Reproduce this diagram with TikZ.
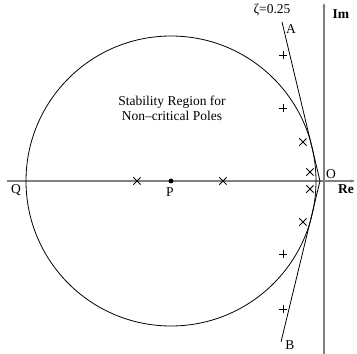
\documentclass[tikz,border=0pt]{standalone}
\usepackage{fontspec}
\setmainfont{Liberation Serif}
\usetikzlibrary{shapes.misc,arrows.meta}

\begin{document}
\begin{tikzpicture}[x=10pt,y=10pt,line width=0.8pt,
  axis/.style={gray,line width=1.2pt,-{Stealth[length=4pt,width=3pt]}},
  pole/.style={cross out,draw,line width=0.75pt,minimum size=6.5pt,inner sep=0pt},
  dot/.style={circle,fill,inner sep=1.7pt},
  lbl/.style={font=\fontsize{13.5}{15}\selectfont,inner sep=0pt}]
  \useasboundingbox (-32.4,-17.3) rectangle (3.3,18.1);
  % axes
  \coordinate (re0) at (-31.7,0);
  \coordinate (re1) at (3.1,0);
  \coordinate (im0) at (0,-17.3);
  \coordinate (im1) at (0,17.8);
  \draw[axis] (re0) -- (re1);
  \draw[axis] (im0) -- (im1);
  % stability circle
  \node[dot] (P) at (-15.3,0) {};
  \draw (P) circle (14.5);
  % zeta = 0.25 lines
  \coordinate (V) at (-0.4,0);
  \coordinate (A) at (-4.2,15.9);
  \coordinate (B) at (-4.3,-16.1);
  \draw (A) -- (V) -- (B);
  % poles
  \foreach \p [count=\i] in {(-18.7,0),(-10.1,0),(-2.1,3.9),(-1.4,0.9),(-1.4,-0.8),(-2.1,-4.1)}
    \node[pole] (x\i) at \p {};
  % zeros
  \foreach \y [count=\i] in {12.6,7.3,-7.3,-12.8} {
    \coordinate (z\i) at (-4.1,\y);
    \draw[line width=0.75pt] (z\i) +(-0.4,0) -- +(0.4,0) +(0,-0.4) -- +(0,0.4);
  }
  % labels
  \node[lbl] (zeta) at (-5.2,17.1) {ζ=0.25};
  \node[lbl] (lA) at (-3.3,15.2) {A};
  \node[lbl] (lB) at (-3.4,-16.4) {B};
  \node[lbl] (lIm) at (1.7,16.7) {\textbf{Im}};
  \node[lbl] (lRe) at (2.2,-0.8) {\textbf{Re}};
  \node[lbl] (lO) at (0.7,0.7) {O};
  \node[lbl] (lQ) at (-30.8,-0.9) {Q};
  \node[lbl] (lP) at (-15.4,-1.1) {P};
  \node[lbl,align=center] (region) at (-15.2,7.3) {Stability Region for\\Non--critical Poles};
\end{tikzpicture}
\end{document}
